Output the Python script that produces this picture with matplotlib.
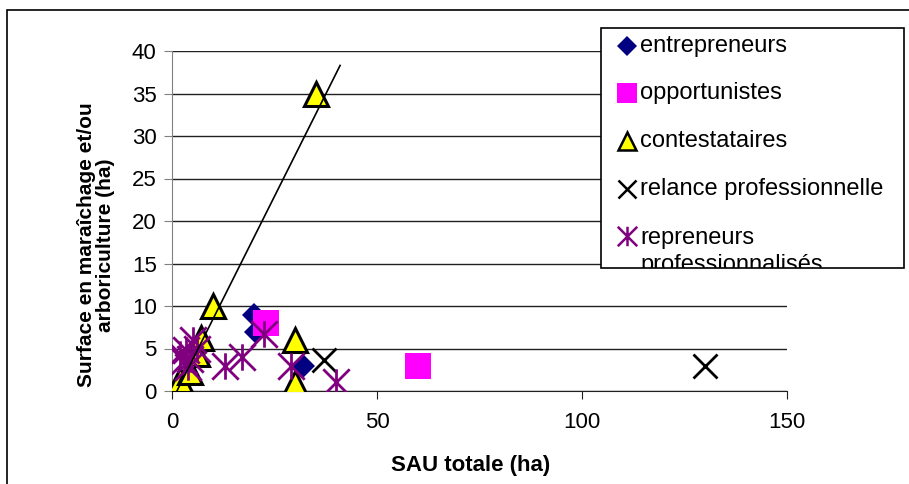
import matplotlib.pyplot as plt
from matplotlib.lines import Line2D
from matplotlib.patches import Rectangle
from matplotlib.path import Path

plt.rcParams['font.family'] = ['Liberation Sans', 'DejaVu Sans']

# SAU totale (ha) / surface maraîchage-arboriculture (ha) par type d'exploitant
entrepreneurs_x = [20, 20.5, 32]
entrepreneurs_y = [9, 7, 3]
opportunistes_x = [23, 60]
opportunistes_y = [8, 3]
contestataires_x = [2, 4.5, 6, 7, 10, 30, 30, 35]
contestataires_y = [1.3, 2.2, 4.3, 6.2, 10, 6, 1, 35]
relance_x = [37, 130]
relance_y = [3.6, 3]
repreneurs_x = [2, 3, 3.5, 4, 4.5, 5, 6, 13, 17, 22.5, 29, 40]
repreneurs_y = [4.3, 3.5, 4.8, 2.8, 3.8, 6, 5, 3, 4, 6.7, 3, 1.1]

# droite de tendance
trend_x = [1.2, 41]
trend_y = [0, 38.3]

labels = ['entrepreneurs', 'opportunistes', 'contestataires',
          'relance professionnelle', 'repreneurs\nprofessionnalisés']

asterisk = Path([(0, -1), (0, 1), (-1, -1), (1, 1), (-1, 1), (1, -1)],
                [Path.MOVETO, Path.LINETO, Path.MOVETO, Path.LINETO,
                 Path.MOVETO, Path.LINETO])

styles = [
    dict(marker='D', color='#000080', markersize=12, markeredgewidth=0),
    dict(marker='s', color='#FF00FF', markersize=19, markeredgewidth=0),
    dict(marker='^', markerfacecolor='#FFFF00', markeredgecolor='black',
         markersize=17, markeredgewidth=2.2),
    dict(marker='x', color='black', markersize=17, markeredgewidth=2),
    dict(marker=asterisk, color='#800080', markersize=19, markeredgewidth=2),
]
series = [(entrepreneurs_x, entrepreneurs_y), (opportunistes_x, opportunistes_y),
          (contestataires_x, contestataires_y), (relance_x, relance_y),
          (repreneurs_x, repreneurs_y)]

fig = plt.figure(figsize=(9.09, 4.84), dpi=100)
W, H = 909, 484
ax = fig.add_axes([172 / W, 1 - 391 / H, (787 - 172) / W, (391 - 51) / H])

for (xs, ys), st in zip(series, styles):
    ax.plot(xs, ys, linestyle='none', zorder=3, **st)

ax.plot(trend_x, trend_y, color='black', lw=1.2, zorder=4)

ax.set_xlim(0, 150)
ax.set_ylim(0, 40)
ax.set_xticks([0, 50, 100, 150])
ax.set_yticks(range(0, 41, 5))
ax.yaxis.grid(True, color='#202020', lw=1)
ax.set_axisbelow(True)
for side in ['top', 'right']:
    ax.spines[side].set_visible(False)
ax.spines['left'].set_color('#808080')
ax.spines['bottom'].set_color('#202020')
ax.tick_params(axis='y', direction='out', length=6, color='#808080',
               labelsize=16, pad=5)
ax.tick_params(axis='x', direction='out', length=6, color='#202020',
               labelsize=16, pad=9)

fig.text(471 / W, 1 - 466 / H, 'SAU totale (ha)', fontsize=16,
         fontweight='bold', ha='center', va='center')
fig.text(96 / W, 1 - 245 / H, 'Surface en maraîchage et/ou\narboriculture (ha)',
         fontsize=15, fontweight='bold', ha='center', va='center',
         rotation=90, multialignment='center', linespacing=1.05)

# cadre du graphique
fig.add_artist(Rectangle((7 / W, -0.1), 1.1, 1 - 10 / H + 0.1,
                         transform=fig.transFigure, fill=False,
                         edgecolor='black', lw=1.2))

# légende
box = Rectangle((601 / W, 1 - 268 / H), (904 - 601) / W, (268 - 28) / H,
                transform=fig.transFigure, facecolor='white',
                edgecolor='black', lw=1.2, zorder=5)
fig.add_artist(box)
leg_sizes = [10, 14, 13, 13, 14]
for i, (lab, st, ms) in enumerate(zip(labels, styles, leg_sizes)):
    yc = 1 - (46 + 47.5 * i) / H
    kw = dict(st)
    kw['markersize'] = ms
    if kw.get('markeredgewidth', 0) > 1.5:
        kw['markeredgewidth'] = 1.8
    fig.add_artist(Line2D([627 / W], [yc], transform=fig.transFigure,
                          linestyle='none', zorder=6, **kw))
    t = fig.text(640 / W, yc, lab, fontsize=17, ha='left',
                 va='top' if '\n' in lab else 'center', zorder=6,
                 linespacing=1.3)
    if '\n' in lab:
        t.set_y(yc + 9 / H)
    t.set_clip_path(box)

fig.savefig('out.png', dpi=100)
